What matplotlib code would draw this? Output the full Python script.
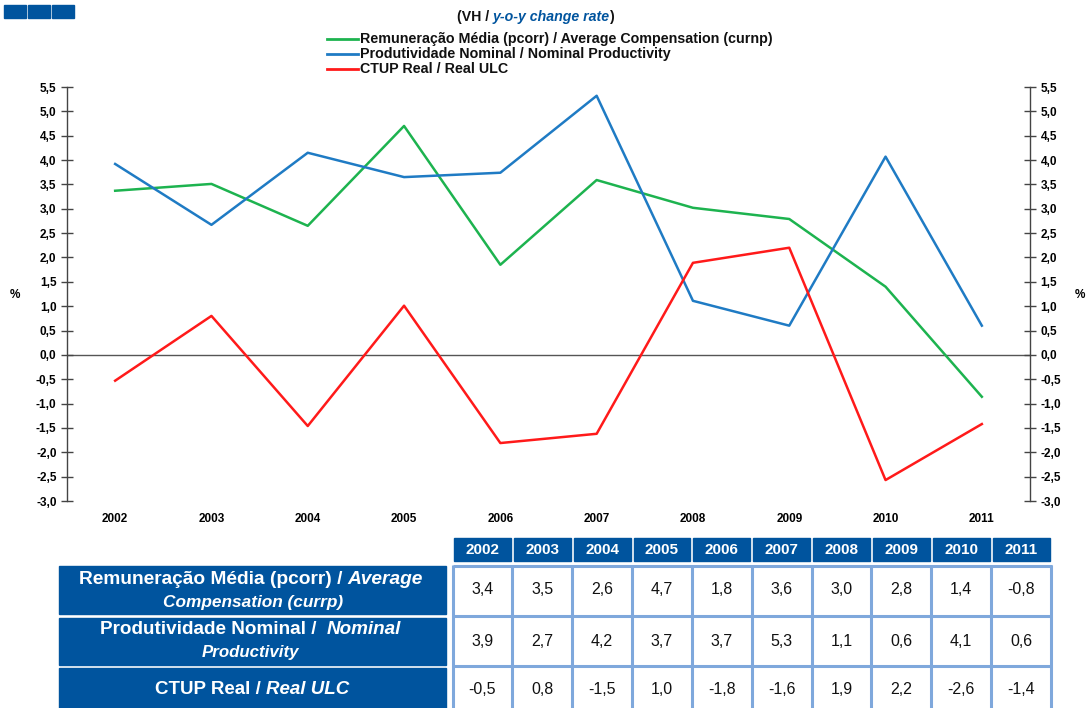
import matplotlib
matplotlib.use("Agg")
import matplotlib.pyplot as plt
from matplotlib.patches import Rectangle
from matplotlib.ticker import MultipleLocator, FuncFormatter

years = ["2002", "2003", "2004", "2005", "2006", "2007", "2008", "2009", "2010", "2011"]
compensation = [3.37, 3.51, 2.65, 4.70, 1.85, 3.59, 3.02, 2.79, 1.40, -0.86]
productivity = [3.92, 2.67, 4.15, 3.65, 3.74, 5.32, 1.11, 0.60, 4.07, 0.60]
real_ulc = [-0.53, 0.80, -1.46, 1.01, -1.81, -1.62, 1.89, 2.20, -2.57, -1.42]

table_comp = ["3,4", "3,5", "2,6", "4,7", "1,8", "3,6", "3,0", "2,8", "1,4", "-0,8"]
table_prod = ["3,9", "2,7", "4,2", "3,7", "3,7", "5,3", "1,1", "0,6", "4,1", "0,6"]
table_ulc = ["-0,5", "0,8", "-1,5", "1,0", "-1,8", "-1,6", "1,9", "2,2", "-2,6", "-1,4"]

legend_labels = ["Remuneração Média (pcorr) / Average Compensation (curnp)",
                 "Produtividade Nominal / Nominal Productivity",
                 "CTUP Real / Real ULC"]

GREEN = "#1DB34F"
BLUE = "#1F7BC4"
RED = "#FF1A1A"
DARK = "#00549E"
BORDER = "#7FA8DC"

W, H = 1087, 708
fig = plt.figure(figsize=(W / 100, H / 100), dpi=100)
renderer = fig.canvas.get_renderer()

sans = ["Liberation Sans", "DejaVu Sans"]

# main chart
ax = fig.add_axes([67 / W, 1 - 501 / H, (1030 - 67) / W, (501 - 87) / H])
x = list(range(len(years)))
ax.plot(x, compensation, color=GREEN, lw=1.8)
ax.plot(x, productivity, color=BLUE, lw=1.8)
ax.plot(x, real_ulc, color=RED, lw=1.8)
ax.axhline(0, color="#555555", lw=1.0, zorder=0)
ax.set_xlim(-0.5, 9.5)
ax.set_ylim(-3.0, 5.5)
ax.yaxis.set_major_locator(MultipleLocator(0.5))
fmt = FuncFormatter(lambda v, p: f"{v:.1f}".replace(".", ",").replace("-0,0", "0,0"))
ax.yaxis.set_major_formatter(fmt)
for s in ["top", "bottom"]:
    ax.spines[s].set_visible(False)
for s in ["left", "right"]:
    ax.spines[s].set_color("#444444")
    ax.spines[s].set_linewidth(1.0)
ax.set_xticks(x)
ax.set_xticklabels(years, fontweight="bold", fontsize=8.5, family=sans)
ax.tick_params(axis="x", length=0, pad=9)
ax.tick_params(axis="y", direction="inout", length=9, width=1.0, color="#444444",
               labelsize=8.5, left=True, right=True, labelleft=True, labelright=True, pad=3)
for lab in ax.get_yticklabels():
    lab.set_fontweight("bold")
    lab.set_family(sans)
fig.text(15 / W, 1 - 295 / H, "%", fontsize=8.5, fontweight="bold", ha="center", va="center", family=sans)
fig.text(1080 / W, 1 - 295 / H, "%", fontsize=8.5, fontweight="bold", ha="center", va="center", family=sans)

# overlay (pixel coords, y down)
ov = fig.add_axes([0, 0, 1, 1], zorder=5)
ov.set_xlim(0, W)
ov.set_ylim(H, 0)
ov.axis("off")
ov.patch.set_alpha(0)


def fit_parts(x0, x1, y, parts, base=10.0):
    """Draw text parts side by side, scaled to span x0..x1 in pixels."""
    texts = []
    for s, kw in parts:
        t = ov.text(0, y, s, fontsize=base, ha="left", va="center", family=sans, **kw)
        texts.append(t)
    widths = [t.get_window_extent(renderer).width for t in texts]
    total = sum(widths)
    size = base * (x1 - x0) / total
    for t in texts:
        t.set_fontsize(size)
    widths = [t.get_window_extent(renderer).width for t in texts]
    cur = x0
    for t, w in zip(texts, widths):
        t.set_x(cur)
        cur += w
    return texts


# three squares top-left
for i in range(3):
    ov.add_patch(Rectangle((4 + i * 24, 5), 22, 13, color=DARK))

# subtitle
fit_parts(457, 615, 17, [("(VH / ", dict(fontweight="bold", color="#111111")),
                         ("y-o-y change rate", dict(fontweight="bold", style="italic", color=DARK)),
                         (")", dict(fontweight="bold", color="#111111"))])

# legend
legend_x1 = [772, 665, 517]
for i, (lab, col) in enumerate(zip(legend_labels, [GREEN, BLUE, RED])):
    yy = 39 + i * 14.8
    ov.plot([327, 358], [yy, yy], color=col, lw=2)
    t = ov.text(360, yy, lab, fontsize=10, fontweight="bold", family=sans, ha="left", va="center",
                color="#111111")
w0 = ov.texts[-3].get_window_extent(renderer).width
for t in ov.texts[-3:]:
    t.set_fontsize(10 * (772 - 360) / w0)

# table header
col_x0 = 452.5
col_w = 59.85
ncols = len(years)
for i, yr in enumerate(years):
    ov.add_patch(Rectangle((col_x0 + i * col_w + 1.5, 538), col_w - 3, 23, color=DARK))
    ov.text(col_x0 + i * col_w + col_w / 2, 549.5, yr, color="white", fontsize=11, fontweight="bold",
            family=sans, ha="center", va="center")

rows = [table_comp, table_prod, table_ulc]
row_box = [(566, 614), (618, 665), (668, 712)]
row_mid = [590, 641, 690]
for r, vals in enumerate(rows):
    top, bot = row_box[r]
    ov.add_patch(Rectangle((59, top), 387, bot - top, color=DARK))
    for i, v in enumerate(vals):
        ov.text(col_x0 + i * col_w + col_w / 2, row_mid[r], v, fontsize=11.5, family=sans,
                ha="center", va="center", color="#111111")

# table grid
xs = [col_x0 + i * col_w for i in range(ncols + 1)]
for xx in xs:
    ov.plot([xx, xx], [565, 708], color=BORDER, lw=2.2, solid_capstyle="butt")
for yy in [566, 616, 666]:
    ov.plot([xs[0], xs[-1] + 1], [yy, yy], color=BORDER, lw=2.2, solid_capstyle="butt")

# row label texts
B = dict(fontweight="bold", color="white")
BI = dict(fontweight="bold", style="italic", color="white")
fit_parts(79, 424, 580, [("Remuneração Média (pcorr) / ", B), ("Average", BI)])
fit_parts(163, 343, 603, [("Compensation (currp)", BI)])
fit_parts(100, 402, 629, [("Produtividade Nominal /  ", B), ("Nominal", BI)])
fit_parts(202, 300, 653, [("Productivity", BI)])
fit_parts(155, 349, 689, [("CTUP Real / ", B), ("Real ULC", BI)])

fig.savefig("out.png", dpi=100)
